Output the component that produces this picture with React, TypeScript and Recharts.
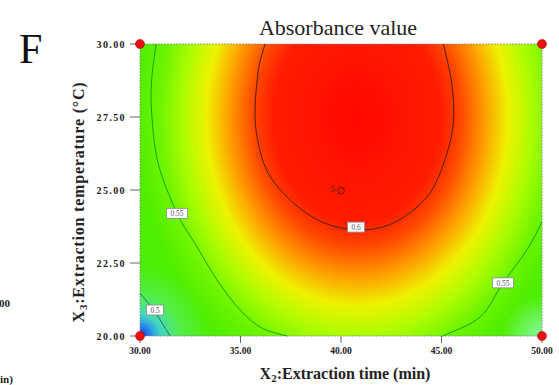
import React from 'react';
import { ComposedChart, XAxis, YAxis, Line, Scatter, ReferenceArea } from 'recharts';

const xTicks = [30, 35, 40, 45, 50];
const yTicks = [20, 22.5, 25, 27.5, 30];

const contour060 = [
  { x: 36.22, y: 30.0 }, { x: 35.89, y: 29.11 }, { x: 35.72, y: 27.63 }, { x: 35.89, y: 26.6 },
  { x: 36.3, y: 25.68 }, { x: 37.13, y: 24.89 }, { x: 38.29, y: 24.2 }, { x: 39.45, y: 23.8 },
  { x: 40.78, y: 23.63 }, { x: 42.11, y: 23.74 }, { x: 43.27, y: 24.14 }, { x: 44.43, y: 24.89 },
  { x: 45.17, y: 26.03 }, { x: 45.59, y: 27.29 }, { x: 45.51, y: 28.65 }, { x: 45.09, y: 30.0 },
];
const contour055Left = [
  { x: 30.8, y: 30.0 }, { x: 30.58, y: 28.77 }, { x: 30.58, y: 27.64 }, { x: 30.9, y: 25.92 },
  { x: 31.84, y: 24.21 }, { x: 32.84, y: 23.05 }, { x: 33.83, y: 21.92 }, { x: 34.98, y: 20.89 },
  { x: 36.07, y: 20.27 }, { x: 37.31, y: 20.0 },
];
const contour055Right = [
  { x: 45.07, y: 20.0 }, { x: 46.92, y: 20.65 }, { x: 48.06, y: 21.82 }, { x: 49.25, y: 22.95 }, { x: 50.0, y: 23.9 },
];
const contour050 = [
  { x: 30.0, y: 21.47 }, { x: 30.75, y: 20.82 }, { x: 31.49, y: 20.0 },
];
const contourLabels = [
  { x: 40.75, y: 23.73, label: '0.6' },
  { x: 31.84, y: 24.2, label: '0.55' },
  { x: 48.06, y: 21.82, label: '0.55' },
  { x: 30.75, y: 20.89, label: '0.5' },
];
const designCorners = [
  { x: 30, y: 20 }, { x: 30, y: 30 }, { x: 50, y: 20 }, { x: 50, y: 30 },
];
const centerPoints = [{ x: 40, y: 25, count: 5 }];

const FIELD_PEAK_X = 40.8;
const FIELD_PEAK_Y = 27.5;

const serif = '"Liberation Serif", "Times New Roman", serif';

// Catmull-Rom style smoothing curve (passes through every read point)
const smoothCurve = (context: any) => {
  let pts: number[][] = [];
  return {
    areaStart() {},
    areaEnd() {},
    lineStart() {
      pts = [];
    },
    lineEnd() {
      if (!pts.length) return;
      context.moveTo(pts[0][0], pts[0][1]);
      for (let i = 0; i < pts.length - 1; i++) {
        const p0 = pts[i - 1] || pts[i];
        const p1 = pts[i];
        const p2 = pts[i + 1];
        const p3 = pts[i + 2] || p2;
        context.bezierCurveTo(
          p1[0] + (p2[0] - p0[0]) / 6,
          p1[1] + (p2[1] - p0[1]) / 6,
          p2[0] - (p3[0] - p1[0]) / 6,
          p2[1] - (p3[1] - p1[1]) / 6,
          p2[0],
          p2[1],
        );
      }
    },
    point(x: number, y: number) {
      pts.push([x, y]);
    },
  };
};

const FieldShape = (props: any) => {
  const { x, y, width, height } = props;
  const cx = x + ((FIELD_PEAK_X - 30) / 20) * width;
  const cy = y + ((30 - FIELD_PEAK_Y) / 10) * height;
  return (
    <g>
      <defs>
        <radialGradient
          id="fieldGrad"
          gradientUnits="userSpaceOnUse"
          cx={cx}
          cy={cy}
          r={290}
          gradientTransform={`translate(${cx} ${cy}) scale(1 1.25) translate(${-cx} ${-cy})`}
        >
          <stop offset="0" stopColor="#ff0800" />
          <stop offset="0.29" stopColor="#ff1c00" />
          <stop offset="0.36" stopColor="#ff4a00" />
          <stop offset="0.44" stopColor="#ff9c00" />
          <stop offset="0.52" stopColor="#eef200" />
          <stop offset="0.6" stopColor="#aefc00" />
          <stop offset="0.68" stopColor="#6ef400" />
          <stop offset="0.76" stopColor="#50ee00" />
          <stop offset="1" stopColor="#44ec18" />
        </radialGradient>
        <radialGradient id="blueCorner" gradientUnits="userSpaceOnUse" cx={x} cy={y + height} r={70}>
          <stop offset="0" stopColor="#1028e0" stopOpacity="1" />
          <stop offset="0.12" stopColor="#2070ff" stopOpacity="0.95" />
          <stop offset="0.3" stopColor="#40d0f0" stopOpacity="0.8" />
          <stop offset="0.6" stopColor="#60f0b0" stopOpacity="0.35" />
          <stop offset="1" stopColor="#60f0b0" stopOpacity="0" />
        </radialGradient>
        <radialGradient id="lightCorner" gradientUnits="userSpaceOnUse" cx={x + width} cy={y + height} r={40}>
          <stop offset="0" stopColor="#a0ffe0" stopOpacity="0.7" />
          <stop offset="1" stopColor="#a0ffe0" stopOpacity="0" />
        </radialGradient>
      </defs>
      <rect x={x} y={y} width={width} height={height} fill="url(#fieldGrad)" />
      <rect x={x} y={y} width={width} height={height} fill="url(#blueCorner)" />
      <rect x={x} y={y} width={width} height={height} fill="url(#lightCorner)" />
      <rect x={x} y={y} width={width} height={height} fill="none" stroke="#8a8a8a" strokeWidth={0.8} strokeDasharray="2 1" />
    </g>
  );
};

const CornerDot = (props: any) => {
  const { cx, cy } = props;
  return <circle cx={cx} cy={cy} r={4.5} fill="#e81010" stroke="#b00000" strokeWidth={0.6} />;
};

const CenterMark = (props: any) => {
  const { cx, cy, payload } = props;
  return (
    <g>
      <text x={cx - 6} y={cy + 2} textAnchor="end" fontSize={9} fontFamily={serif} fontWeight="bold" fill="#7a1a0a">
        {payload.count}
      </text>
      <circle cx={cx} cy={cy + 0.5} r={3.2} fill="none" stroke="#7a1a0a" strokeWidth={1.2} />
    </g>
  );
};

const ContourLabel = (props: any) => {
  const { cx, cy, payload } = props;
  const w = payload.label.length > 3 ? 21 : 17;
  return (
    <g>
      <rect x={cx - w / 2} y={cy - 5} width={w} height={10} fill="#ffffff" stroke="#8a8a8a" strokeWidth={0.8} />
      <text x={cx} y={cy + 3} textAnchor="middle" fontSize={7.5} fontFamily={serif} fill="#555">
        {payload.label}
      </text>
    </g>
  );
};

const tickStyleY = { fontSize: 10, fontWeight: 'bold', fill: '#222', fontFamily: serif, letterSpacing: 1.4 } as any;
const tickStyleX = { fontSize: 9.5, fontWeight: 'bold', fill: '#222', fontFamily: serif } as any;

export default function App() {
  return (
    <div style={{ position: 'absolute', left: 0, top: 0, width: 559, height: 385, background: '#fff' }}>
      <ComposedChart width={559} height={385} margin={{ top: 44, right: 17, bottom: 19, left: 80 }}>
        <XAxis
          type="number"
          dataKey="x"
          domain={[30, 50]}
          ticks={xTicks}
          tickFormatter={(v: number) => v.toFixed(2)}
          tick={tickStyleX}
          tickSize={7}
          tickMargin={4}
          axisLine={false}
          tickLine={{ stroke: '#666' }}
          height={30}
        />
        <YAxis
          type="number"
          dataKey="y"
          domain={[20, 30]}
          ticks={yTicks}
          tickFormatter={(v: number) => v.toFixed(2)}
          tick={tickStyleY}
          tickSize={10}
          tickMargin={4}
          axisLine={false}
          tickLine={{ stroke: '#666' }}
          width={60}
        />
        <ReferenceArea x1={30} x2={50} y1={20} y2={30} shape={FieldShape} zIndex={-50} ifOverflow="visible" />
        <Line data={contour060} dataKey="y" type={smoothCurve as any} stroke="#4a1e08" strokeWidth={1} dot={false} isAnimationActive={false} />
        <Line data={contour055Left} dataKey="y" type={smoothCurve as any} stroke="#10a810" strokeWidth={1} dot={false} isAnimationActive={false} />
        <Line data={contour055Right} dataKey="y" type={smoothCurve as any} stroke="#10a810" strokeWidth={1} dot={false} isAnimationActive={false} />
        <Line data={contour050} dataKey="y" type={smoothCurve as any} stroke="#2a6a8a" strokeWidth={1} dot={false} isAnimationActive={false} />
        <Scatter data={contourLabels} shape={ContourLabel} isAnimationActive={false} />
        <Scatter data={centerPoints} shape={CenterMark} isAnimationActive={false} />
        <Scatter data={designCorners} shape={CornerDot} isAnimationActive={false} />
      </ComposedChart>
      <svg width={559} height={385} style={{ position: 'absolute', left: 0, top: 0, pointerEvents: 'none' }}>
        <text x={338} y={35} textAnchor="middle" fontSize={22} fontFamily={serif} fill="#222">Absorbance value</text>
        <text x={19} y={63} fontSize={42} fontFamily={serif} fill="#111">F</text>
        <text x={-1} y={307} fontSize={11} fontWeight="bold" fontFamily={serif} fill="#222">00</text>
        <text x={0} y={383} fontSize={11} fontWeight="bold" fontFamily={serif} fill="#222">in)</text>
        <text x={345} y={379} textAnchor="middle" fontSize={16} fontWeight="bold" fontFamily={serif} fill="#222">
          <tspan>X</tspan>
          <tspan fontSize={11} dy={3}>2</tspan>
          <tspan dy={-3}>:Extraction time (min)</tspan>
        </text>
        <text
          x={84}
          y={202}
          transform="rotate(-90 84 202)"
          textAnchor="middle"
          fontSize={16}
          fontWeight="bold"
          fontFamily={serif}
          letterSpacing={0.8}
          fill="#222"
        >
          <tspan>X</tspan>
          <tspan fontSize={11} dy={3}>3</tspan>
          <tspan dy={-3}>:Extraction temperature (°C)</tspan>
        </text>
      </svg>
    </div>
  );
}
